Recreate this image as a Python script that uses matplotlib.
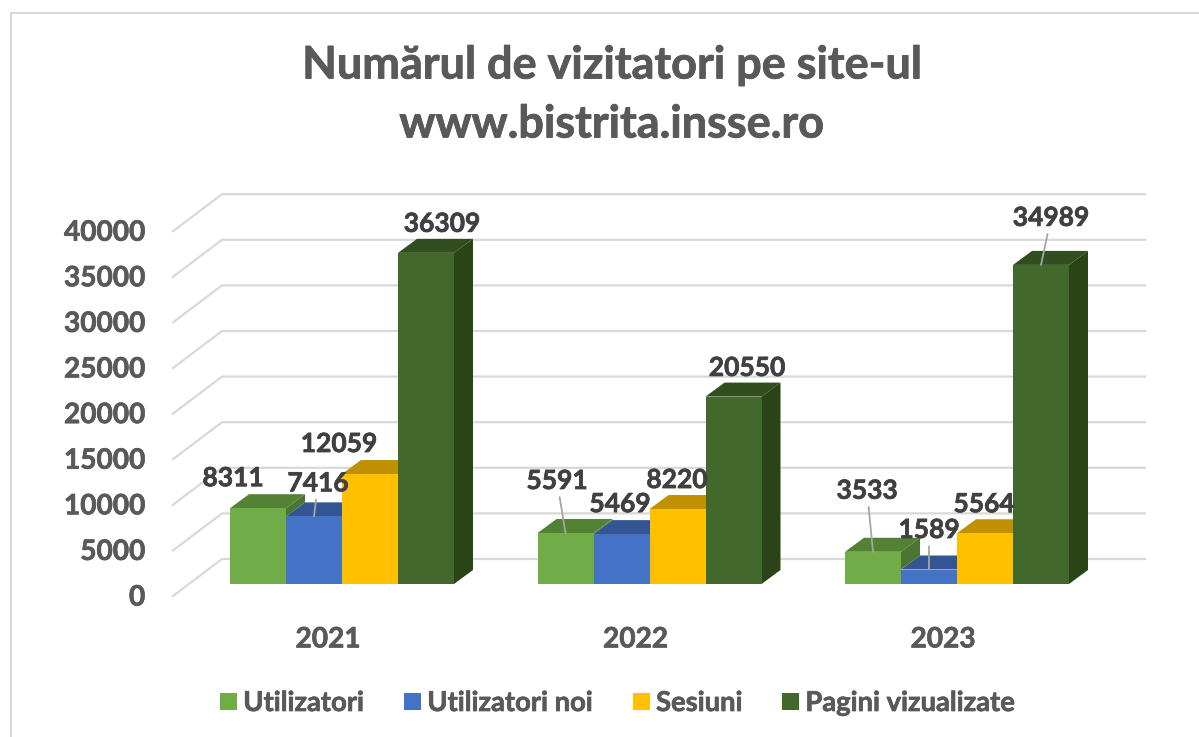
import matplotlib
matplotlib.use("Agg")
import matplotlib.pyplot as plt
import matplotlib.patheffects as pe
from matplotlib.patches import Rectangle
from matplotlib.transforms import ScaledTranslation

years = ["2021", "2022", "2023"]
serie = ["Utilizatori", "Utilizatori noi", "Sesiuni", "Pagini vizualizate"]
utilizatori = [8311, 5591, 3533]
utilizatori_noi = [7416, 5469, 1589]
sesiuni = [12059, 8220, 5564]
pagini = [36309, 20550, 34989]
y_ticks = [0, 5000, 10000, 15000, 20000, 25000, 30000, 35000, 40000]

valori = [utilizatori, utilizatori_noi, sesiuni, pagini]
culori = ["#70AD47", "#4472C4", "#FFC000", "#43682B"]
culori_top = ["#548235", "#335593", "#BF9000", "#324E20"]
culori_side = ["#4B7530", "#2E4D85", "#A67D00", "#2A4417"]

# Offset of each label from the top of its bar, in pixels (dx, dy up)
label_off = [
    [(-25, 30), (-8.5, 52), (-6, 61)],
    [(4, 33), (-1.5, 30), (0, 39.5)],
    [(-31, 30), (-0.5, 29), (-1, 29)],
    [(16, 29), (13.5, 28.6), (10, 47)],
]
# Which labels have a leader line
leader = [
    [False, True, True],
    [True, False, True],
    [False, False, False],
    [False, False, True],
]

W, H = 1199, 737
PX_X = 307.5  # pixels between groups
PX_Y = 45.6 / 5000  # pixels per value unit
X0, Y0 = 342, 584  # pixel of group 2021 center / value 0
LEFT, RIGHT, TOP, BOTTOM = 173, 1145, 150, 600

plt.rcParams["font.family"] = ["Lato", "DejaVu Sans"]


# Lato Bold is lighter than the font of the reference, thicken it a little
def ingroasa(text, color, width=0.5):
    text.set_fontweight("bold")
    text.set_path_effects([pe.withStroke(linewidth=width, foreground=color)])


fig = plt.figure(figsize=(W / 100, H / 100), dpi=100)
# Chart frame: only the left and top edges fall inside the picture
fig.patches.append(Rectangle((11 / W, -0.02), 1.1, 1 - 13 / H + 0.02, transform=fig.transFigure,
                             facecolor="white", edgecolor="#D9D9D9", linewidth=1.5, zorder=-1))

ax = fig.add_axes([LEFT / W, 1 - BOTTOM / H, (RIGHT - LEFT) / W, (BOTTOM - TOP) / H])
ax.patch.set_alpha(0)
ax.set_xlim((LEFT - X0) / PX_X, (RIGHT - X0) / PX_X)
ax.set_ylim((Y0 - BOTTOM) / PX_Y, (Y0 - TOP) / PX_Y)
for s in ax.spines.values():
    s.set_visible(False)

# Back wall gridlines and the diagonals on the left side
back_x = (222 - X0) / PX_X
back_y = 25 / PX_Y
front_y = -12 / PX_Y
for v in y_ticks:
    ax.plot([ax.get_xlim()[0], back_x, ax.get_xlim()[1]], [v + front_y, v + back_y, v + back_y],
            color="#D9D9D9", linewidth=1.6, zorder=1, clip_on=False, solid_joinstyle="round")

bar_w = 56 / PX_X
dx = 19 / PX_X
dy = 14 / PX_Y
n = len(serie)

# Bars: tops first, then the visible part of each side, then the fronts
for j, year in enumerate(years):
    for i in range(n):
        x = j + (i - n / 2) * bar_w
        v = valori[i][j]
        ax.fill([x, x + bar_w, x + bar_w + dx, x + dx], [v, v, v + dy, v + dy],
                color=culori_top[i], linewidth=0, zorder=2)
    for i in range(n):
        x = j + (i - n / 2) * bar_w
        v = valori[i][j]
        # the next bar hides the side up to its own height
        jos = valori[i + 1][j] if i + 1 < n else 0
        if jos < v:
            ax.fill([x + bar_w, x + bar_w + dx, x + bar_w + dx, x + bar_w], [jos, jos + dy, v + dy, v],
                    color=culori_side[i], linewidth=0, zorder=3)

for i in range(n):
    ax.bar([j + (i - n / 2) * bar_w for j in range(len(years))], valori[i], width=bar_w, align="edge",
           color=culori[i], linewidth=0, label=serie[i], zorder=4)

# Value labels
for i in range(n):
    for j in range(len(years)):
        x = j + (i + 0.5 - n / 2) * bar_w
        off = label_off[i][j]
        arrow = None
        if leader[i][j]:
            arrow = dict(arrowstyle="-", color="#A6A6A6", linewidth=1.3, shrinkA=1, shrinkB=0)
        lab = ax.annotate(str(valori[i][j]), xy=(x, valori[i][j]), xytext=off, textcoords="offset pixels",
                          ha="center", va="center", fontsize=19, color="#404040",
                          arrowprops=arrow, zorder=20, annotation_clip=False)
        ingroasa(lab, "#404040")

# Axis ticks
ax.set_yticks(y_ticks)
ax.set_xticks(range(len(years)))
ax.set_xticklabels(years)
ax.tick_params(axis="y", length=0, pad=20, labelsize=20.2, labelcolor="#595959")
ax.tick_params(axis="x", length=0, pad=19, labelsize=20.2, labelcolor="#595959")
for lab in ax.get_yticklabels():
    ingroasa(lab, "#595959")
    lab.set_transform(lab.get_transform() + ScaledTranslation(0, -11 / 100, fig.dpi_scale_trans))
for lab in ax.get_xticklabels():
    ingroasa(lab, "#595959")
    lab.set_transform(lab.get_transform() + ScaledTranslation(-14 / 100, 0, fig.dpi_scale_trans))

titlu = fig.text(611.5 / W, 1 - 95 / H, "Numărul de vizitatori pe site-ul\nwww.bistrita.insse.ro", ha="center",
                 va="center", fontsize=32.4, color="#595959", linespacing=1.5)
ingroasa(titlu, "#595959", 0.6)

fig.legend(loc="center", bbox_to_anchor=(618 / W, 1 - 703 / H), ncol=4, frameon=False, fontsize=19.7,
           labelcolor="#595959", handlelength=0.62, handleheight=0.62, handletextpad=0.22,
           columnspacing=1.45)
for t in fig.legends[0].get_texts():
    ingroasa(t, "#595959")

fig.savefig("out.png", dpi=100)
